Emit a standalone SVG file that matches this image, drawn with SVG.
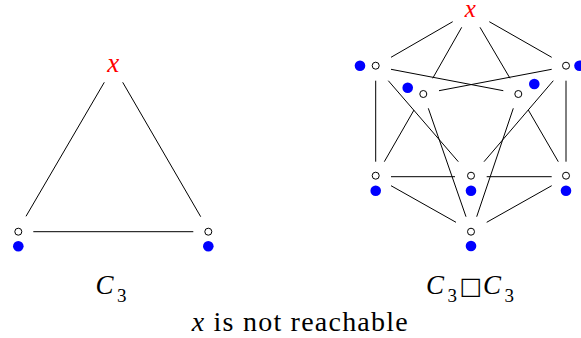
<svg xmlns="http://www.w3.org/2000/svg" width="581" height="338" viewBox="0 0 581 338">
<style>
.e{stroke:#000;stroke-width:1;fill:none}
.v{fill:#fff;stroke:#000;stroke-width:1}
.d{fill:#0000ff}
text{font-family:'Liberation Serif',serif;fill:#000}
.m{font-style:italic}
.red{fill:#ff0000}
</style>
<rect width="581" height="338" fill="#fff"/>
<g id="connectors">
<line class="e" x1="104.3" y1="82.3" x2="26" y2="216.3"/>
<line class="e" x1="122.7" y1="82.3" x2="200.7" y2="216.7"/>
<line class="e" x1="33.3" y1="231.7" x2="193.3" y2="231.7"/>
<line class="e" x1="452.7" y1="21.7" x2="391" y2="57.3"/>
<line class="e" x1="461.7" y1="27.3" x2="432.7" y2="78.3"/>
<line class="e" x1="480" y1="27.3" x2="510" y2="78.3"/>
<line class="e" x1="489.3" y1="21.7" x2="551.7" y2="57.3"/>
<line class="e" x1="391" y1="69.3" x2="503.3" y2="90.7"/>
<line class="e" x1="551.7" y1="69.3" x2="439" y2="90.7"/>
<line class="e" x1="375.7" y1="80.7" x2="375.7" y2="161.7"/>
<line class="e" x1="566" y1="80.7" x2="566" y2="161.7"/>
<line class="e" x1="388.3" y1="80.7" x2="458.3" y2="161.7"/>
<line class="e" x1="553.3" y1="80.7" x2="484" y2="161.7"/>
<line class="e" x1="414" y1="110" x2="384.3" y2="161.7"/>
<line class="e" x1="428.3" y1="108.3" x2="466" y2="216.7"/>
<line class="e" x1="513.3" y1="108.3" x2="476.7" y2="216.7"/>
<line class="e" x1="528.3" y1="110" x2="558.3" y2="161.7"/>
<line class="e" x1="391" y1="176.7" x2="455" y2="176.7"/>
<line class="e" x1="486.7" y1="176.7" x2="551.7" y2="176.7"/>
<line class="e" x1="391" y1="185.7" x2="456" y2="222.3"/>
<line class="e" x1="551.7" y1="185.7" x2="486.7" y2="222.3"/>
</g>
<g id="L_x"><text class="m red" x="113.3" y="71.7" font-size="27" text-anchor="middle">x</text></g>
<g id="L_a"><circle class="v" cx="18.3" cy="231.7" r="3.5"/><circle class="d" cx="18.3" cy="246.3" r="5.3"/></g>
<g id="L_b"><circle class="v" cx="208.3" cy="231.7" r="3.5"/><circle class="d" cx="208.3" cy="246.3" r="5.3"/></g>
<g id="R_x"><text class="m red" x="470.3" y="17" font-size="25" text-anchor="middle">x</text></g>
<g id="R_TL"><circle class="v" cx="375.7" cy="65.7" r="3.5"/><circle class="d" cx="360" cy="65.7" r="5.3"/></g>
<g id="R_TR"><circle class="v" cx="566" cy="65.7" r="3.5"/><circle class="d" cx="579.5" cy="65.7" r="5.3"/></g>
<g id="R_IL"><circle class="v" cx="423.3" cy="94" r="3.5"/><circle class="d" cx="407.7" cy="87.7" r="5.3"/></g>
<g id="R_IR"><circle class="v" cx="518.3" cy="94" r="3.5"/><circle class="d" cx="534.3" cy="84" r="5.3"/></g>
<g id="R_ML"><circle class="v" cx="375.7" cy="175.7" r="3.5"/><circle class="d" cx="375.7" cy="190.7" r="5.3"/></g>
<g id="R_MC"><circle class="v" cx="471" cy="175.7" r="3.5"/><circle class="d" cx="471" cy="190.7" r="5.3"/></g>
<g id="R_MR"><circle class="v" cx="566" cy="175.7" r="3.5"/><circle class="d" cx="566" cy="190.7" r="5.3"/></g>
<g id="R_B"><circle class="v" cx="471" cy="231.7" r="3.5"/><circle class="d" cx="471" cy="246" r="5.3"/></g>
<g id="labels">
<text y="294" font-size="27"><tspan class="m" x="95.5">C</tspan><tspan x="117" font-size="19" dy="8">3</tspan></text>
<text y="294" font-size="27"><tspan class="m" x="426">C</tspan><tspan x="447.5" font-size="19" dy="8">3</tspan><tspan x="459.5" dy="-8" font-family="'DejaVu Sans',sans-serif" font-size="24">□</tspan><tspan class="m" x="483">C</tspan><tspan x="504.5" font-size="19" dy="8">3</tspan></text>
<text x="191.7" y="331" font-size="28" textLength="216" lengthAdjust="spacing"><tspan class="m">x</tspan> is not reachable</text>
</g>
</svg>
